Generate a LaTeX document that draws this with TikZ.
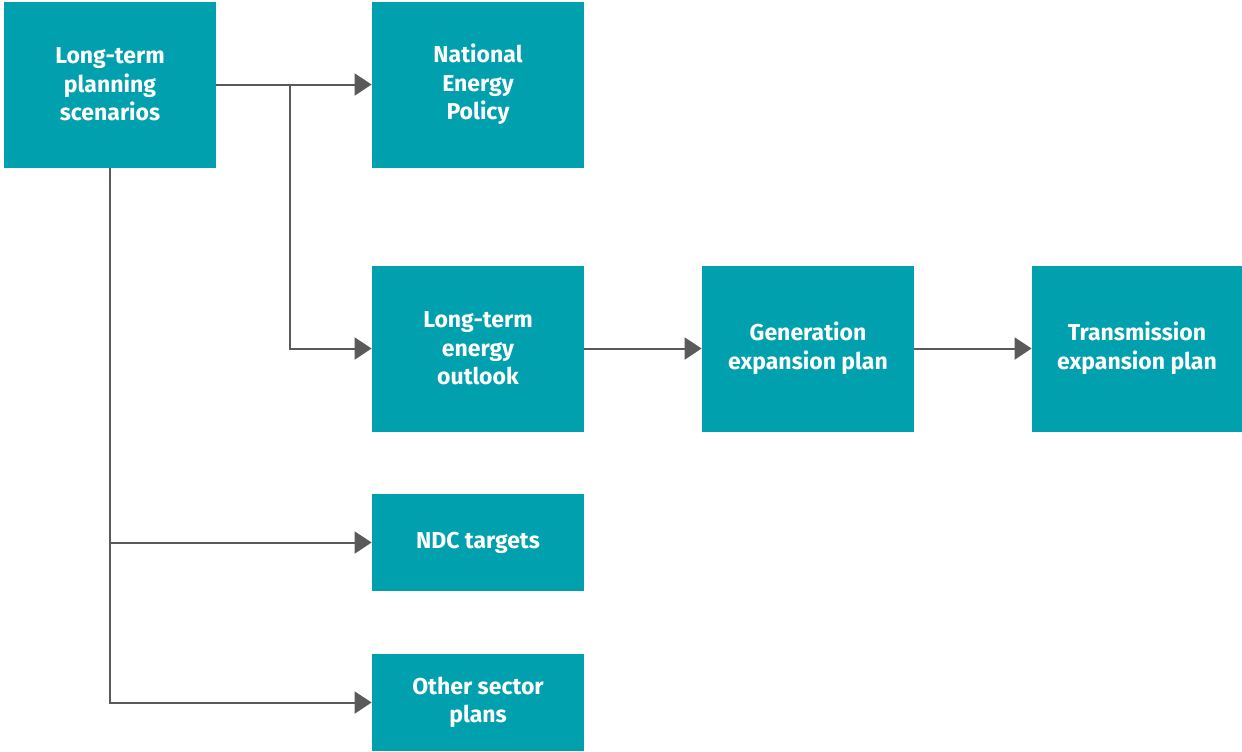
\documentclass[tikz,border=0pt]{standalone}
\usepackage{fontspec}
\setmainfont{Fira Sans}
\usetikzlibrary{arrows.meta}
\definecolor{teal1}{HTML}{00A0AF}
\definecolor{linegray}{HTML}{5A5A5A}
\begin{document}
\begin{tikzpicture}[x=0.5pt,y=-0.5pt,
  box/.style={fill=teal1,draw=none,text=white,font=\bfseries\fontsize{11.5}{14.3}\selectfont,
    align=center,minimum width=106pt,minimum height=83pt,inner sep=0pt},
  shortbox/.style={box,minimum height=48.5pt},
  conn/.style={draw=linegray,line width=1pt,-{Triangle[length=8.5pt,width=11pt]}}]
\useasboundingbox (0,0) rectangle (1242,751);
\node[box] (A) at (110,84.5) {Long-term\\planning\\scenarios};
\node[box] (B) at (478,84.5) {National\\Energy\\Policy};
\node[box] (C) at (478,348.5) {Long-term\\energy\\outlook};
\node[box] (D) at (808,348.5) {Generation\\expansion plan};
\node[box,minimum width=105pt] (E) at (1137,348.5) {Transmission\\expansion plan};
\node[shortbox] (F) at (478,542.5) {\raisebox{-1pt}{NDC targets}};
\node[shortbox] (G) at (478,702.5) {Other sector\\plans};
\coordinate (j1) at (290,84.5);
\draw[conn] (A.east) -- (B.west);
\draw[conn] (j1) |- (C.west);
\draw[conn] (A.south) |- (G.west);
\draw[conn] (A.south |- F.west) -- (F.west);
\draw[conn] (C.east) -- (D.west);
\draw[conn] (D.east) -- (E.west);
\end{tikzpicture}
\end{document}
